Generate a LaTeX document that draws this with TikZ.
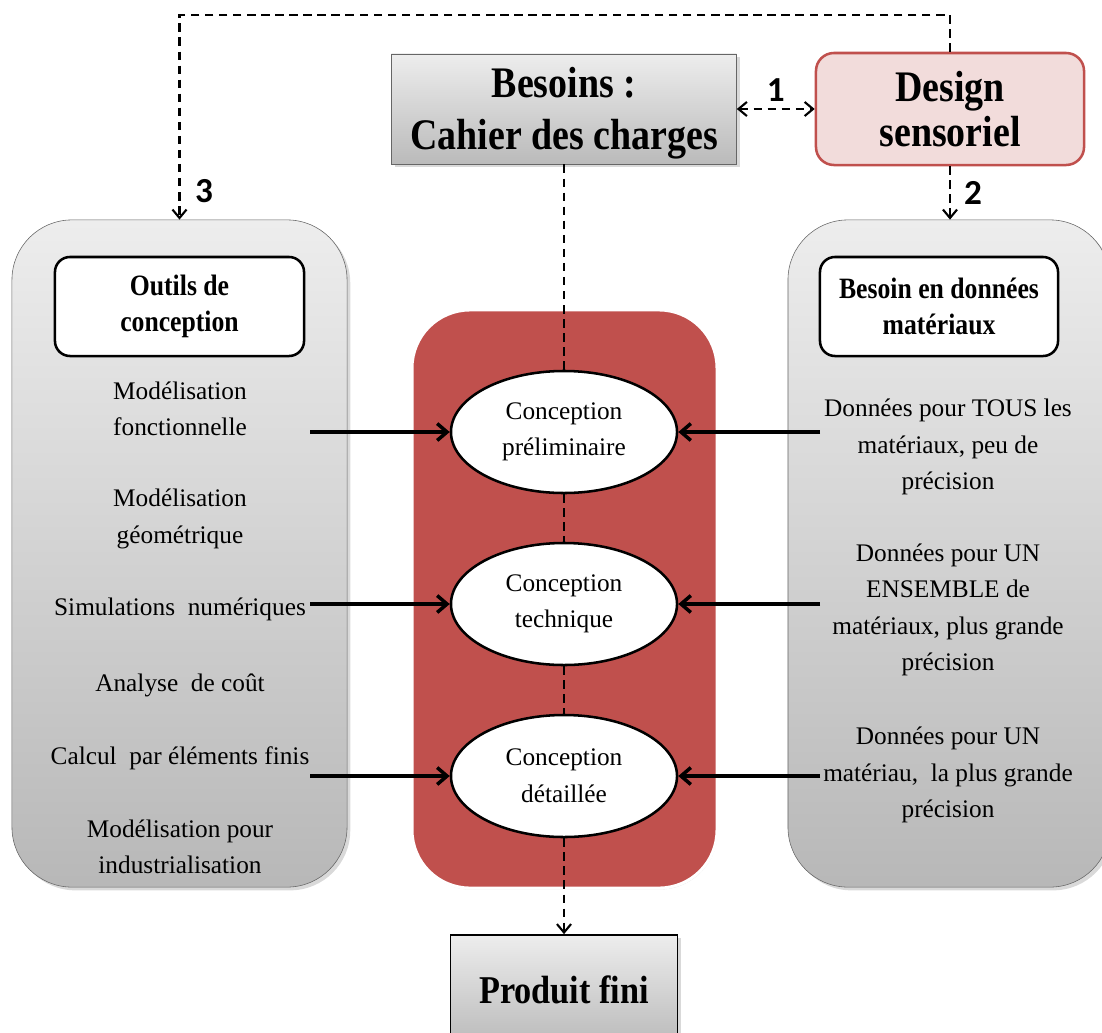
\documentclass[tikz,border=0pt]{standalone}
\usepackage{fontspec}
\setmainfont{Liberation Serif}
\newfontfamily\condbold[FakeStretch=0.87]{Liberation Serif Bold}
\newfontfamily\numfont{Carlito}
\usepackage{xcolor}
\usepackage{tikz}
\usetikzlibrary{arrows.meta,positioning,shapes.geometric,shadows}
\definecolor{flowred}{HTML}{C0504D}
\definecolor{designpink}{HTML}{F2DCDB}

\begin{document}
\begin{tikzpicture}[x=0.025cm, y=-0.025cm,
  titlebox/.style={draw=black!60, top color=black!7, bottom color=black!27, minimum width=8.625cm, minimum height=2.75cm, align=center, font=\condbold\fontsize{31}{37}\selectfont, drop shadow={opacity=0.3}},
  panel/.style={draw=black!60, rounded corners=1.5cm, top color=black!7, bottom color=black!28, minimum height=16.675cm, drop shadow={opacity=0.3}},
  headbox/.style={draw, line width=1.8pt, rounded corners=0.375cm, fill=white, minimum height=2.475cm, align=center, font=\condbold\fontsize{21}{26}\selectfont},
  itemtext/.style={align=center, font=\fontsize{18}{26}\selectfont},
  stagebox/.style={ellipse, draw, line width=1.8pt, fill=white, minimum width=5.65cm, minimum height=3.05cm, align=center, font=\fontsize{18}{26}\selectfont},
  feedarrow/.style={-{Straight Barb[length=7pt,width=12pt]}, line width=2.5pt},
  dashlink/.style={dash pattern=on 6pt off 4pt, line width=1.5pt},
  dasharrow/.style={-{Straight Barb[length=6pt,width=10pt]}},
  num/.style={font=\numfont\fontsize{25}{28}\selectfont\bfseries},
]

\useasboundingbox (0,0) rectangle (1102,1032);

% Top row
\node[titlebox] (besoins) at (564,109) {\rule{0pt}{28pt}Besoins :\\Cahier des charges};
\node[draw=flowred, line width=1.8pt, fill=designpink, rounded corners=0.45cm, minimum width=6.7cm, minimum height=2.8cm, align=center, font=\condbold\fontsize{31}{32}\selectfont] (design) at (950,109) {Design\\sensoriel};

% Panels
\node[panel, minimum width=8.375cm] (outilspanel) at (179.5,553.5) {};
\node[panel, minimum width=8.05cm] (donneespanel) at (949,553.5) {};
\node[fill=flowred, draw=white, line width=2.2pt, rounded corners=1.45cm, minimum width=7.625cm, minimum height=14.45cm, drop shadow={shadow xshift=0.5pt, shadow yshift=-1pt, opacity=0.3}] (flow) at (564.5,599) {};

% Headers
\node[headbox, minimum width=6.225cm] (outils) at (179.5,306.5) {Outils de\\conception};
\node[headbox, minimum width=5.95cm] (besoindonnees) at (939,306.5) {Besoin en données\\matériaux};

% Left items
\node[itemtext] (fonct) at (180,409) {Modélisation\\fonctionnelle};
\node[itemtext] (geom) at (180,519) {Modélisation\\géométrique};
\node[itemtext] (simul) at (180,609) {Simulations\ \ numériques};
\node[itemtext] (cout) at (180,685) {Analyse\ \ de coût};
\node[itemtext] (calcul) at (180,758) {Calcul\ \ par éléments finis};
\node[itemtext] (indus) at (180,847) {Modélisation pour\\industrialisation};

% Right items
\node[itemtext] (tous) at (948,447) {Données pour TOUS les\\matériaux, peu de\\précision};
\node[itemtext] (ensemble) at (948,610) {Données pour UN\\ENSEMBLE de\\matériaux, plus grande\\précision};
\node[itemtext] (unmat) at (948,775) {Données pour UN\\matériau,\ \ la plus grande\\précision};

% Stages
\node[stagebox] (prelim) at (564,432) {Conception\\préliminaire};
\node[stagebox] (tech) at (564,604) {Conception\\technique};
\node[stagebox] (detail) at (564,776) {Conception\\détaillée};

% Product
\node[titlebox, draw=black, line width=1.2pt, minimum width=5.675cm, font=\condbold\fontsize{28}{34}\selectfont, drop shadow={opacity=0}] (produit) at (564,990) {Produit fini};

% Dashed links
\coordinate (rail) at (0,15);
\draw[dashlink] (besoins) -- (prelim);
\draw[dashlink] (prelim) -- (tech);
\draw[dashlink] (tech) -- (detail);
\draw[dashlink, dasharrow] (detail) -- (produit);
\draw[dashlink, {Straight Barb[length=6pt,width=10pt]}-{Straight Barb[length=6pt,width=10pt]}] (besoins) -- (design) node[midway, above=1pt, num] {1};
\draw[dashlink, dasharrow] (design.south) -- (design.south |- donneespanel.north) node[midway, right=6pt, num] {2};
\draw[dashlink, dasharrow] (design.north) -- (design.north |- rail) -| (outilspanel.north) node[pos=0.93, right=7pt, num] {3};

% Feed arrows
\coordinate (la1) at (310,432);
\coordinate (la2) at (310,604);
\coordinate (la3) at (310,776);
\coordinate (ra1) at (820,432);
\coordinate (ra2) at (820,604);
\coordinate (ra3) at (820,776);
\draw[feedarrow] (la1) -- (prelim);
\draw[feedarrow] (la2) -- (tech);
\draw[feedarrow] (la3) -- (detail);
\draw[feedarrow] (ra1) -- (prelim);
\draw[feedarrow] (ra2) -- (tech);
\draw[feedarrow] (ra3) -- (detail);

\end{tikzpicture}
\end{document}
